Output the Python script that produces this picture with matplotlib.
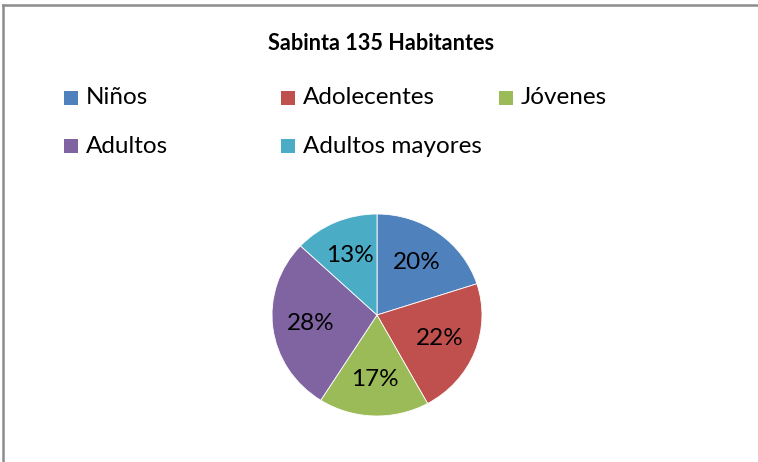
import matplotlib
matplotlib.use("Agg")
import matplotlib.pyplot as plt
from matplotlib.patches import Rectangle
from matplotlib.lines import Line2D

categories = ["Niños", "Adolecentes", "Jóvenes", "Adultos", "Adultos mayores"]
values = [20, 22, 17, 28, 13]
colors = ["#4F81BD", "#C0504D", "#9BBB59", "#8064A2", "#4BACC6"]
title = "Sabinta 135 Habitantes"

W, H = 758, 462
fig = plt.figure(figsize=(W / 100, H / 100), dpi=100)
fig.patch.set_facecolor("white")
plt.rcParams["font.family"] = ["Lato", "DejaVu Sans"]

def px(x, y):
    return x / W, 1 - y / H

# border: top and left only (chart is cropped at right/bottom)
x0, y0 = px(3, 5)
x1, _ = px(758, 5)
_, yb = px(3, 462)
fig.add_artist(Line2D([x0, x1], [y0, y0], transform=fig.transFigure, color="#8c8c8c", linewidth=1.8))
fig.add_artist(Line2D([x0, x0], [y0, yb], transform=fig.transFigure, color="#8c8c8c", linewidth=1.8))

# title
tx, ty = px(381, 44)
fig.text(tx, ty, title, ha="center", va="center", fontsize=15.6, fontweight="bold", color="black")

# legend (manual, Excel-like layout)
pos = [(64, 98), (281, 98), (499, 98), (64, 146), (281, 146)]
for (x, y), lab, c in zip(pos, categories, colors):
    rx, ry = px(x, y + 7)
    fig.patches.append(Rectangle((rx, ry), 14 / W, 14 / H, transform=fig.transFigure,
                                 facecolor=c, edgecolor="none"))
    lx, ly = px(x + 22, y)
    fig.text(lx, ly, lab, ha="left", va="center", fontsize=17.5, color="black")

# pie
cx, cy, rx_, ry_ = 377, 315, 105, 101
l, b = px(cx - rx_, cy + ry_)
ax = fig.add_axes([l, b, 2 * rx_ / W, 2 * ry_ / H])
wedges, texts, autotexts = ax.pie(values, colors=colors, startangle=90, counterclock=False,
                                  autopct="%1.0f%%", pctdistance=0.64, radius=1,
                                  wedgeprops=dict(linewidth=0.6, edgecolor="white"),
                                  textprops=dict(fontsize=17.5, color="black"))
ax.set_aspect("auto")
ax.set_xlim(-1, 1)
ax.set_ylim(-1, 1)
ax.axis("off")

fig.savefig("out.png", dpi=100, facecolor="white")
